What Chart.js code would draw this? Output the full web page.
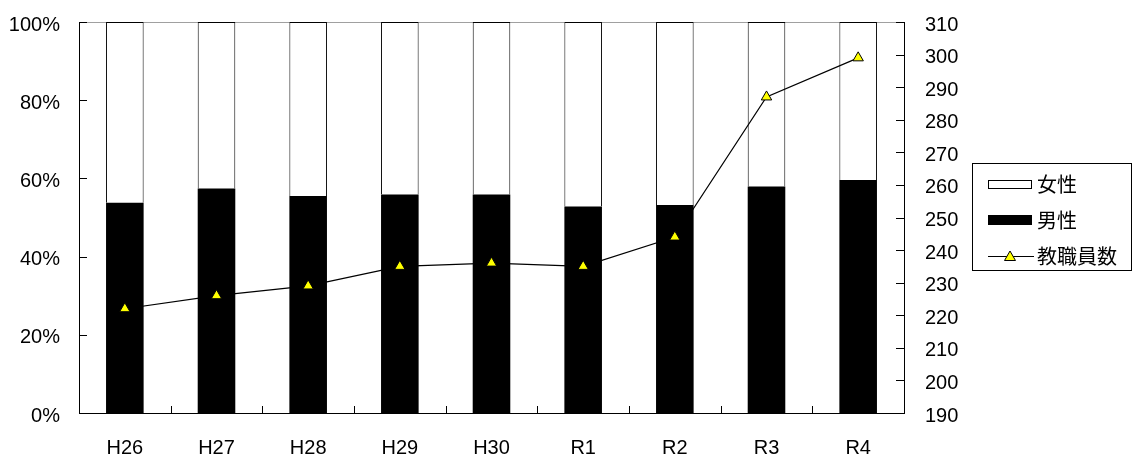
<!DOCTYPE html>
<html>
<head>
<meta charset="utf-8">
<script src="https://cdn.jsdelivr.net/npm/chart.js@4/dist/chart.umd.min.js"></script>
<style>
    body { margin: 0; background: #fff; }
    #wrap { position: relative; width: 1133px; height: 457px; }
    #legend {
        position: absolute; left: 972px; top: 163px; width: 160px; height: 108px;
        border: 1px solid #000; box-sizing: border-box;
        font-family: "Noto Sans CJK JP", sans-serif; font-size: 20px; color: #000;
    }
    .item { position: absolute; left: 15px; height: 24px; display: flex; align-items: center; }
    .sym { width: 44px; height: 9px; box-sizing: border-box; margin-right: 5px; }
    .item span { line-height: 24px; }
</style>
</head>
<body>
<div id="wrap">
    <canvas id="chart" width="1133" height="457"></canvas>
    <div id="legend">
        <div class="item" style="top:8px"><div class="sym" style="border:1px solid #000;background:#fff;height:9px"></div><span>女性</span></div>
        <div class="item" style="top:44px"><div class="sym" style="background:#000;height:10px"></div><span>男性</span></div>
        <div class="item" style="top:80px">
            <svg class="sym" width="46" height="14" style="height:14px;width:46px;margin-right:3px">
                <line x1="0" y1="7.5" x2="46" y2="7.5" stroke="#000" stroke-width="1"/>
                <polygon points="22,2 27.5,11.5 16.5,11.5" fill="#ffff00" stroke="#000" stroke-width="1"/>
            </svg><span>教職員数</span></div>
    </div>
</div>
<script>
// fiscal years
const years = ['H26', 'H27', 'H28', 'H29', 'H30', 'R1', 'R2', 'R3', 'R4'];
// share of male / female staff (%)
const maleShare = [53.8, 57.4, 55.5, 55.9, 55.9, 52.8, 53.2, 57.9, 59.6];
const femaleShare = [46.2, 42.6, 44.5, 44.1, 44.1, 47.2, 46.8, 42.1, 40.4];
// total number of staff
const staffCount = [222, 226, 229, 235, 236, 235, 244, 287, 299];

const tickFont = { family: '"Liberation Sans", Arial, sans-serif', size: 20 };

// top gray border + inward tick marks like the original
const innerTicks = {
    id: 'innerTicks',
    beforeDatasetsDraw(chart) {
        const { ctx, chartArea } = chart;
        ctx.save();
        ctx.strokeStyle = '#a0a0a0';
        ctx.lineWidth = 1;
        ctx.beginPath();
        ctx.moveTo(chartArea.left, chartArea.top + 0.5);
        ctx.lineTo(chartArea.right, chartArea.top + 0.5);
        ctx.stroke();
        ctx.restore();
    },
    afterDatasetsDraw(chart) {
        const { ctx, chartArea, scales } = chart;
        ctx.save();
        ctx.strokeStyle = '#000';
        ctx.lineWidth = 1;
        ctx.beginPath();
        scales.y.ticks.forEach(t => {
            const py = Math.round(scales.y.getPixelForValue(t.value)) + 0.5;
            ctx.moveTo(chartArea.left, py);
            ctx.lineTo(chartArea.left + 8, py);
        });
        scales.y1.ticks.forEach(t => {
            const py = Math.round(scales.y1.getPixelForValue(t.value)) + 0.5;
            ctx.moveTo(chartArea.right - 8, py);
            ctx.lineTo(chartArea.right, py);
        });
        for (let i = 1; i < years.length; i++) {
            const px = Math.round((scales.x.getPixelForValue(i - 1) + scales.x.getPixelForValue(i)) / 2) + 0.5;
            ctx.moveTo(px, chartArea.bottom);
            ctx.lineTo(px, chartArea.bottom - 7);
        }
        ctx.stroke();
        ctx.restore();
    }
};

// fixed axis sizes so the plot area sits where the original one does
function fixVertical(width) {
    return s => {
        s.width = width;
        s.paddingTop = 0;
        s.paddingBottom = 0;
    };
}

new Chart(document.getElementById('chart'), {
    type: 'bar',
    data: {
        labels: years,
        datasets: [
            {
                type: 'line',
                label: '教職員数',
                data: staffCount,
                yAxisID: 'y1',
                borderColor: '#000',
                borderWidth: 1.2,
                pointStyle: 'triangle',
                pointRadius: 6,
                pointBackgroundColor: '#ffff00',
                pointBorderColor: '#000',
                pointBorderWidth: 1,
                order: 0
            },
            {
                label: '男性',
                data: maleShare,
                backgroundColor: '#000',
                borderColor: '#000',
                borderWidth: 0,
                yAxisID: 'y',
                order: 1
            },
            {
                label: '女性',
                data: femaleShare,
                backgroundColor: '#fff',
                borderColor: '#000',
                borderWidth: 1,
                yAxisID: 'y',
                order: 1
            }
        ]
    },
    options: {
        responsive: false,
        animation: false,
        layout: { padding: { top: 22, right: 169, left: 0, bottom: 0 } },
        plugins: { legend: { display: false }, tooltip: { enabled: false } },
        datasets: { bar: { categoryPercentage: 1, barPercentage: 0.41 } },
        scales: {
            x: {
                stacked: true,
                grid: { display: false, drawTicks: false },
                border: { display: true, color: '#000', width: 1 },
                ticks: { color: '#000', font: tickFont, padding: 23, maxRotation: 0 },
                afterFit: s => { s.height = 44; s.paddingLeft = 0; s.paddingRight = 0; }
            },
            y: {
                stacked: true,
                min: 0,
                max: 100,
                grid: { display: false, drawTicks: false },
                border: { display: true, color: '#000', width: 1 },
                ticks: { stepSize: 20, color: '#000', font: tickFont, padding: 19, labelOffset: 3, callback: v => v + '%' },
                afterFit: fixVertical(79)
            },
            y1: {
                position: 'right',
                min: 190,
                max: 310,
                grid: { display: false, drawTicks: false },
                border: { display: true, color: '#000', width: 1 },
                ticks: { stepSize: 10, color: '#000', font: tickFont, padding: 21, labelOffset: 3 },
                afterFit: fixVertical(60)
            }
        }
    },
    plugins: [innerTicks]
});
</script>
</body>
</html>
